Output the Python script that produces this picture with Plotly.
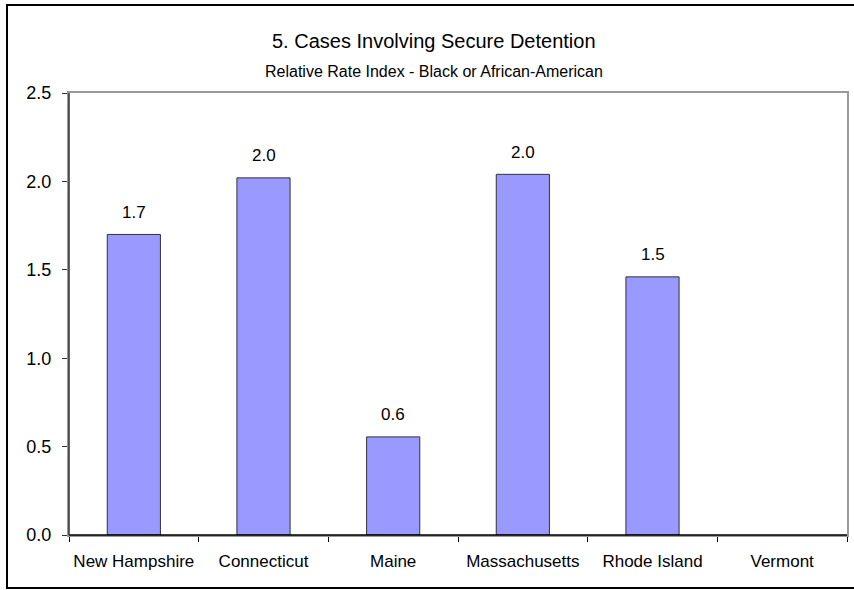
import plotly.graph_objects as go

states = ["New Hampshire", "Connecticut", "Maine", "Massachusetts", "Rhode Island", "Vermont"]
rri = [1.70, 2.02, 0.555, 2.04, 1.46, None]
labels = ["1.7", "2.0", "0.6", "2.0", "1.5", ""]

title = "5. Cases Involving Secure Detention"
subtitle = "Relative Rate Index - Black or African-American"
y_ticks = [0.0, 0.5, 1.0, 1.5, 2.0, 2.5]

W, H = 854, 590
L, R, T, B = 69, 7, 93, 55
pw, ph = W - L - R, H - T - B

def px_x(x):
    return (x - L) / pw

def px_y(y):
    return (H - B - y) / ph

font = "Liberation Sans, Arial, sans-serif"

fig = go.Figure(go.Bar(
    x=states, y=rri,
    marker=dict(color="#9999FF", line=dict(color="#333333", width=1)),
    cliponaxis=False,
))

value_annotations = [
    dict(x=s, y=v, text=t, xref="x", yref="y", showarrow=False, yshift=22,
         xanchor="center", yanchor="middle", font=dict(size=17, family=font, color="black"))
    for s, v, t in zip(states, rri, labels) if v is not None and t
]

fig.update_layout(
    width=W, height=H,
    margin=dict(l=L, r=R, t=T, b=B, autoexpand=False),
    paper_bgcolor="white", plot_bgcolor="white",
    bargap=0.59,
    showlegend=False,
    font=dict(family=font, size=17, color="black"),
    xaxis=dict(
        type="category", showgrid=False, showline=True, linecolor="#999999", linewidth=2,
        mirror=True,
        ticks="outside", tickson="boundaries", ticklen=5, tickcolor="black",
        tickfont=dict(size=17), tickangle=0, automargin=False, fixedrange=True,
        ticklabelstandoff=10,
    ),
    yaxis=dict(
        range=[0, 2.5], tickvals=y_ticks, ticktext=[f"{v:.1f}" for v in y_ticks],
        showgrid=False, showline=True, linecolor="#999999", linewidth=2, mirror=True,
        ticks="outside", ticklen=5, tickcolor="#333333", zeroline=False,
        tickfont=dict(size=18), automargin=False, ticklabelstandoff=7,
    ),
    annotations=[
        dict(text=title, x=px_x(434), y=px_y(41), xref="paper", yref="paper",
             showarrow=False, font=dict(size=20, family=font), xanchor="center", yanchor="middle"),
        dict(text=subtitle, x=px_x(434), y=px_y(72), xref="paper", yref="paper",
             showarrow=False, font=dict(size=16, family=font), xanchor="center", yanchor="middle"),
    ] + value_annotations,
    shapes=[
        dict(type="line", xref="paper", yref="paper", x0=0, x1=1, y0=0, y1=0,
             line=dict(color="black", width=1.5), layer="above"),
        dict(type="line", xref="paper", yref="paper", x0=0, x1=0, y0=0, y1=1,
             line=dict(color="#333333", width=1.5), layer="above"),
        dict(type="rect", xref="paper", yref="paper",
             x0=px_x(7), x1=px_x(860), y0=px_y(588), y1=px_y(5),
             line=dict(color="black", width=2), layer="above"),
    ],
)

fig.write_html("out.html", config={"displayModeBar": False},
               post_script="document.body.style.margin='0';")
